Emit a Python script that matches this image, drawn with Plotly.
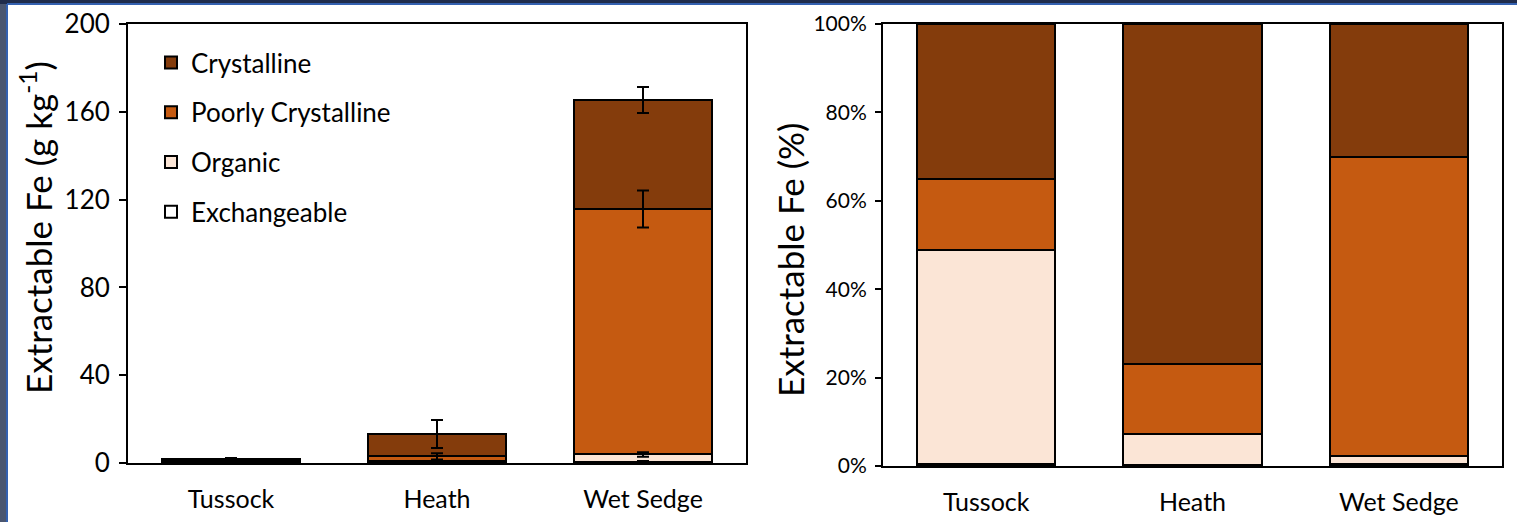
import plotly.graph_objects as go

# Extractable Fe fractions by tundra site (g kg-1)
sites = ["Tussock", "Heath", "Wet Sedge"]
exchangeable = [0.01, 0.03, 0.6]
organic = [0.87, 0.92, 3.3]
poorly_crystalline = [0.29, 2.1, 111.8]
crystalline = [0.63, 10.15, 49.7]

# Standard errors for each fraction
exchangeable_err = [0.1, 0.2, 0.3]
organic_err = [0.1, 0.3, 1.0]
poorly_err = [0.2, 1.4, 8.4]
crystalline_err = [0.5, 6.4, 5.9]

left_ticks = [0, 40, 80, 120, 160, 200]
pct_ticks = [0, 20, 40, 60, 80, 100]
pct_labels = ["0%", "20%", "40%", "60%", "80%", "100%"]

# stacked bottom -> top; legend lists them top -> bottom
fractions = [
    ("Exchangeable", exchangeable, exchangeable_err, "#FFFFFF"),
    ("Organic", organic, organic_err, "#FBE5D6"),
    ("Poorly Crystalline", poorly_crystalline, poorly_err, "#C55A11"),
    ("Crystalline", crystalline, crystalline_err, "#843C0C"),
]

totals = [sum(f[1][i] for f in fractions) for i in range(len(sites))]

W, H = 1517, 522
FONT = "Lato"


def px_x(v):
    return v / W


def px_y(v):
    return 1 - v / H


fig = go.Figure()

# Left panel: absolute stacked concentrations
for rank, (name, vals, err, color) in enumerate(fractions):
    fig.add_trace(go.Bar(
        x=sites, y=vals, name=name, legendgroup=name,
        legendrank=1000 - rank,
        marker=dict(color=color, line=dict(color="black", width=2)),
        xaxis="x", yaxis="y", hoverinfo="skip",
    ))

# Error bars drawn on top of every segment at its stacked top
running = [0.0] * len(sites)
for name, vals, err, color in fractions:
    running = [r + v for r, v in zip(running, vals)]
    fig.add_trace(go.Scatter(
        x=sites, y=list(running), mode="markers",
        marker=dict(size=1, opacity=0),
        error_y=dict(type="data", array=err, color="black", thickness=2, width=6),
        xaxis="x", yaxis="y", showlegend=False, hoverinfo="skip",
    ))

# Right panel: relative contribution of each fraction
for name, vals, err, color in fractions:
    pct = [v / t * 100 for v, t in zip(vals, totals)]
    fig.add_trace(go.Bar(
        x=sites, y=pct, name=name, showlegend=False,
        marker=dict(color=color, line=dict(color="black", width=2)),
        xaxis="x2", yaxis="y2", hoverinfo="skip",
    ))

axis_common = dict(
    showline=True, linecolor="black", linewidth=2, mirror=True,
    showgrid=False, zeroline=False, automargin=False,
)

fig.update_layout(
    width=W, height=H,
    margin=dict(l=0, r=0, t=0, b=0),
    paper_bgcolor="white", plot_bgcolor="white",
    barmode="stack", bargap=0.33,
    font=dict(family=FONT, color="black"),
    showlegend=True,
    legend=dict(
        x=px_x(151), y=px_y(39), xanchor="left", yanchor="top",
        traceorder="grouped", tracegroupgap=13,
        bgcolor="rgba(0,0,0,0)", font=dict(size=26, family=FONT),
    ),
    xaxis=dict(
        domain=[px_x(128), px_x(746)], anchor="y", ticks="",
        tickfont=dict(size=25), ticklabelstandoff=13, **axis_common,
    ),
    yaxis=dict(
        domain=[px_y(463), px_y(24)], anchor="x", range=[0, 200],
        tickmode="array", tickvals=left_ticks, ticks="outside", ticklen=7,
        tickwidth=2, tickcolor="black", tickfont=dict(size=26),
        ticklabelstandoff=4, **axis_common,
    ),
    xaxis2=dict(
        domain=[px_x(883), px_x(1502)], anchor="y2", ticks="",
        tickfont=dict(size=25), ticklabelstandoff=13, **axis_common,
    ),
    yaxis2=dict(
        domain=[px_y(466), px_y(24)], anchor="x2", range=[0, 100],
        tickmode="array", tickvals=pct_ticks, ticktext=pct_labels,
        ticks="outside", ticklen=6, tickwidth=2, tickcolor="black",
        tickfont=dict(size=21), ticklabelstandoff=4, **axis_common,
    ),
    annotations=[
        dict(text="Extractable Fe (g kg<sup>-1</sup>)", textangle=-90,
             x=px_x(36), y=px_y(228), xref="paper", yref="paper",
             xanchor="center", yanchor="middle",
             showarrow=False, font=dict(size=35, family=FONT)),
        dict(text="Extractable Fe (%)", textangle=-90,
             x=px_x(790), y=px_y(260), xref="paper", yref="paper",
             xanchor="center", yanchor="middle",
             showarrow=False, font=dict(size=35, family=FONT)),
    ],
    shapes=[
        # slide frame along the left and top edges
        dict(type="rect", xref="paper", yref="paper", x0=0, x1=px_x(7),
             y0=0, y1=1, fillcolor="#4a5670", line=dict(width=0), layer="above"),
        dict(type="rect", xref="paper", yref="paper", x0=0, x1=1,
             y0=px_y(4), y1=1, fillcolor="#1f2c4c", line=dict(width=0), layer="above"),
        dict(type="line", xref="paper", yref="paper", x0=px_x(7), x1=px_x(7),
             y0=0, y1=px_y(4), line=dict(color="#3461b0", width=2), layer="above"),
        dict(type="line", xref="paper", yref="paper", x0=px_x(7), x1=1,
             y0=px_y(4), y1=px_y(4), line=dict(color="#3461b0", width=2), layer="above"),
    ],
)

fig.write_html("out.html")
